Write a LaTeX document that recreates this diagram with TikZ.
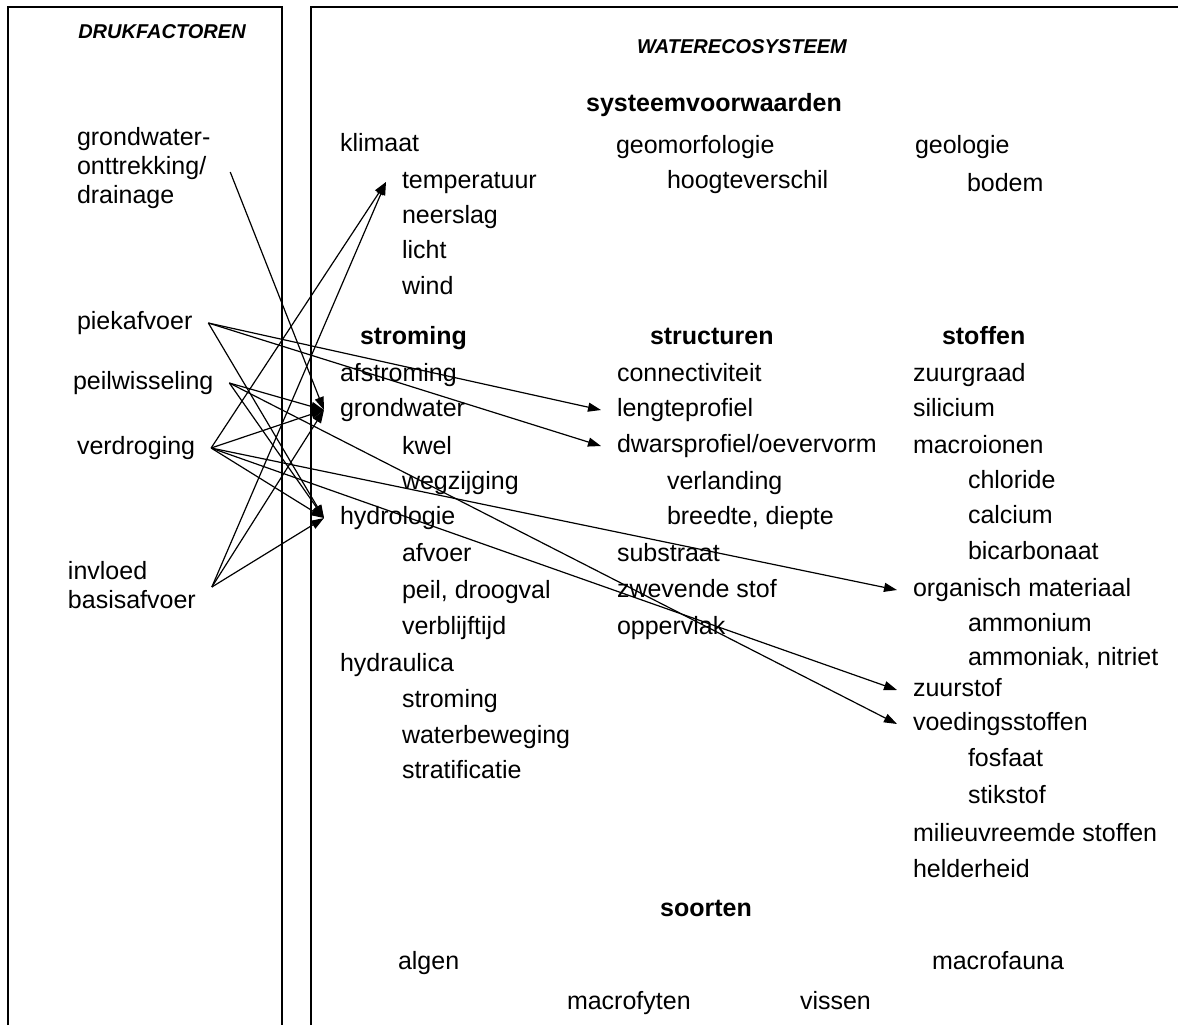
\documentclass[tikz,border=0pt]{standalone}
\usepackage{fontspec}
\setmainfont{Liberation Sans}
\usetikzlibrary{arrows.meta}
\begin{document}
\begin{tikzpicture}[x=0.5pt,y=-0.5pt,
  lbl/.style={inner sep=0pt, outer xsep=8pt, outer ysep=0pt, anchor=west,
    text height=9pt, text depth=2.5pt, font=\fontsize{12.5pt}{14.5pt}\selectfont},
  hd/.style={lbl, font=\fontsize{12.5pt}{14.5pt}\selectfont\bfseries},
  captxt/.style={inner sep=0pt, anchor=center, font=\fontsize{10pt}{12pt}\selectfont\bfseries\itshape},
  arr/.style={line width=0.6pt, -{Triangle[length=6.5pt,width=4.5pt]}},
  frame/.style={line width=1pt}]
\fill[white] (0,0) rectangle (1178,1025);
\useasboundingbox (0,0) rectangle (1178,1025);
% frames
\draw[frame] (8,1025) -- (8,7) -- (282,7) -- (282,1025);
\draw[frame] (311,1025) -- (311,7) -- (1178,7);
% left column
\node[captxt] (druk) at (162,32) {DRUKFACTOREN};
\node[lbl] (grondw) at (61,139) {grondwater-};
\node[lbl] (ontt) at (61,168) {onttrekking/};
\node[lbl] (drain) at (61,197) {drainage};
\node[lbl] (piek) at (61,323) {piekafvoer};
\node[lbl] (peilw) at (57,383) {peilwisseling};
\node[lbl] (verdr) at (61,448) {verdroging};
\node[lbl] (invl) at (52,573) {invloed};
\node[lbl] (basis) at (52,602) {basisafvoer};
% right column
\node[captxt] (water) at (742,47) {WATERECOSYSTEEM};
\node[hd, anchor=center] (sysv) at (714,105) {systeemvoorwaarden};
\node[lbl] (klim) at (324,145) {klimaat};
\node[lbl] (temp) at (386,182) {temperatuur};
\node[lbl] (neer) at (386,217) {neerslag};
\node[lbl] (licht) at (386,252) {licht};
\node[lbl] (wind) at (386,288) {wind};
\node[lbl] (geom) at (600,147) {geomorfologie};
\node[lbl] (hoogte) at (651,182) {hoogteverschil};
\node[lbl] (geol) at (899,147) {geologie};
\node[lbl] (bodem) at (951,185) {bodem};
% stroming
\node[hd] (strom) at (344,338) {stroming};
\node[lbl] (afstr) at (324,375) {afstroming};
\node[lbl] (grondwater) at (324,410) {grondwater};
\node[lbl] (kwel) at (386,448) {kwel};
\node[lbl] (wegz) at (386,483) {wegzijging};
\node[lbl] (hydro) at (324,518) {hydrologie};
\node[lbl] (afvoer) at (386,555) {afvoer};
\node[lbl] (peil) at (386,592) {peil, droogval};
\node[lbl] (verbl) at (386,628) {verblijftijd};
\node[lbl] (hydra) at (324,665) {hydraulica};
\node[lbl] (strom2) at (386,701) {stroming};
\node[lbl] (waterb) at (386,737) {waterbeweging};
\node[lbl] (strat) at (386,772) {stratificatie};
% structuren
\node[hd] (struc) at (634,338) {structuren};
\node[lbl] (conn) at (601,375) {connectiviteit};
\node[lbl] (lengte) at (601,410) {lengteprofiel};
\node[lbl] (dwars) at (601,446) {dwarsprofiel/oevervorm};
\node[lbl] (verl) at (651,483) {verlanding};
\node[lbl] (breedte) at (651,518) {breedte, diepte};
\node[lbl] (substr) at (601,555) {substraat};
\node[lbl] (zwev) at (601,591) {zwevende stof};
\node[lbl] (opp) at (601,628) {oppervlak};
% stoffen
\node[hd] (stof) at (926,338) {stoffen};
\node[lbl] (zuurg) at (897,375) {zuurgraad};
\node[lbl] (sili) at (897,410) {silicium};
\node[lbl] (macro) at (897,447) {macroionen};
\node[lbl] (chlor) at (952,482) {chloride};
\node[lbl] (calc) at (952,517) {calcium};
\node[lbl] (bicarb) at (952,553) {bicarbonaat};
\node[lbl] (organ) at (897,590) {organisch materiaal};
\node[lbl] (ammon) at (952,625) {ammonium};
\node[lbl] (ammoniak) at (952,659) {ammoniak, nitriet};
\node[lbl] (zuurst) at (897,690) {zuurstof};
\node[lbl] (voed) at (897,724) {voedingsstoffen};
\node[lbl] (fosf) at (952,760) {fosfaat};
\node[lbl] (stik) at (952,797) {stikstof};
\node[lbl] (milieu) at (897,835) {milieuvreemde stoffen};
\node[lbl] (helder) at (897,871) {helderheid};
% soorten
\node[hd, anchor=center] (soort) at (706,910) {soorten};
\node[lbl] (algen) at (382,963) {algen};
\node[lbl] (mfauna) at (916,963) {macrofauna};
\node[lbl] (mfyt) at (551,1003) {macrofyten};
\node[lbl] (vissen) at (784,1003) {vissen};
% connectors
\draw[arr] ([xshift=4pt,yshift=-2pt]ontt.east) -- (grondwater.west);
\draw[arr] (verdr.east) -- (temp.west);
\draw[arr] ([yshift=7.5pt]basis.east) -- (temp.west);
\draw[arr] (piek.east) -- (lengte.west);
\draw[arr] (piek.east) -- (dwars.west);
\draw[arr] (piek.east) -- (hydro.west);
\draw[arr] (peilw.east) -- (grondwater.west);
\draw[arr] (peilw.east) -- (hydro.west);
\draw[arr] (peilw.east) -- (voed.west);
\draw[arr] (verdr.east) -- (grondwater.west);
\draw[arr] (verdr.east) -- (hydro.west);
\draw[arr] (verdr.east) -- (organ.west);
\draw[arr] (verdr.east) -- (zuurst.west);
\draw[arr] ([yshift=7.5pt]basis.east) -- (grondwater.west);
\draw[arr] ([yshift=7.5pt]basis.east) -- (hydro.west);
\end{tikzpicture}
\end{document}
